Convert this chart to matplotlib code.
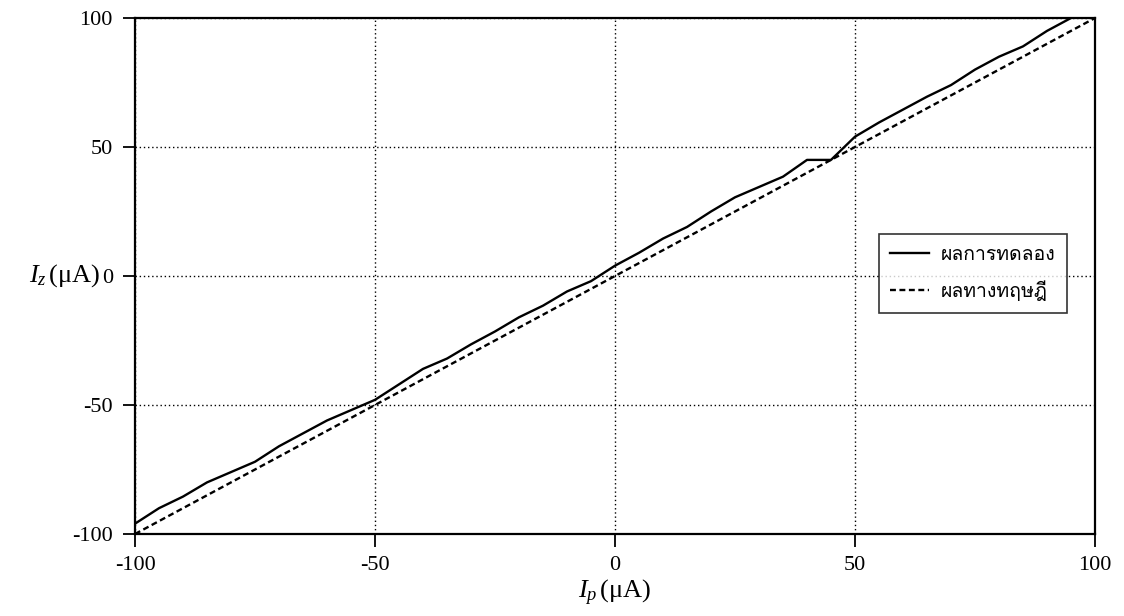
import matplotlib
matplotlib.use("Agg")
import matplotlib.pyplot as plt
from matplotlib import font_manager
from matplotlib.ft2font import FT2Font

plt.rcParams["mathtext.fontset"] = "custom"
plt.rcParams["mathtext.it"] = "Liberation Serif:italic"
plt.rcParams["mathtext.rm"] = "Liberation Serif"
plt.rcParams["axes.unicode_minus"] = False

# measured I_p (uA) and I_z (uA)
ip_exp = [-100, -95, -90, -85, -80, -75, -70, -65, -60, -55, -50,
          -45, -40, -35, -30, -25, -20, -15, -10, -5, 0,
          5, 10, 15, 20, 25, 30, 35, 40, 45, 50,
          55, 60, 65, 70, 75, 80, 85, 90, 95]
iz_exp = [-96, -90, -85.5, -80, -76, -72, -66, -61, -56, -52, -48,
          -42, -36, -32, -26.5, -21.5, -16, -11.5, -6, -2, 4,
          9, 14.5, 19, 25, 30.5, 34.5, 38.5, 45, 45, 54,
          59.5, 64.5, 69.5, 74, 80, 85, 89, 95, 100]

# theory: I_z = I_p
ip_th = [-100, 100]
iz_th = [-100, 100]

ticks = [-100, -50, 0, 50, 100]
label_exp = "ผลการทดลอง"
label_th = "ผลทางทฤษฎี"


def thai_font():
    # first installed font that has Thai glyphs
    seen = set()
    for f in font_manager.fontManager.ttflist:
        if f.fname in seen:
            continue
        seen.add(f.fname)
        try:
            cmap = FT2Font(f.fname).get_charmap()
        except Exception:
            continue
        if ord("ผ") in cmap and ord("ฎ") in cmap:
            return f.name
    return "DejaVu Sans"


thai = thai_font()
serif = "Liberation Serif"

fig = plt.figure(figsize=(11.24, 6.16), dpi=100)
ax = fig.add_axes([135 / 1124, 1 - 534 / 616, 960 / 1124, 516 / 616])

ax.plot(ip_exp, iz_exp, color="black", lw=1.7, label=label_exp)
ax.plot(ip_th, iz_th, color="black", lw=1.7, linestyle=(0, (2.5, 1.5)),
        label=label_th)

ax.set_xlim(-100, 100)
ax.set_ylim(-100, 100)
ax.set_xticks(ticks)
ax.set_yticks(ticks)
ax.grid(True, color="black", linestyle=(0, (1, 2)), lw=1.0)
for s in ax.spines.values():
    s.set_linewidth(1.6)
ax.tick_params(direction="out", length=9, width=1.3, pad=7)
for lab in ax.get_xticklabels() + ax.get_yticklabels():
    lab.set_fontfamily(serif)
    lab.set_fontsize(16)

ax.set_xlabel(r"$I_p\,$(μA)", fontfamily=serif, fontsize=19, labelpad=2)
ax.set_ylabel(r"$I_z\,$(μA)", fontfamily=serif, fontsize=19, rotation=0,
              ha="right", va="center")
ax.yaxis.set_label_coords(-0.036, 0.5)

leg = ax.legend(loc="upper right", bbox_to_anchor=(0.971, 0.581),
                borderaxespad=0,
                prop={"family": [thai, "DejaVu Sans"], "size": 14},
                frameon=True, fancybox=False, handlelength=2.0,
                borderpad=0.6, labelspacing=0.85, handletextpad=0.6)
leg.get_frame().set_edgecolor("black")
leg.get_frame().set_linewidth(1.2)

fig.savefig("out.png", dpi=100)
